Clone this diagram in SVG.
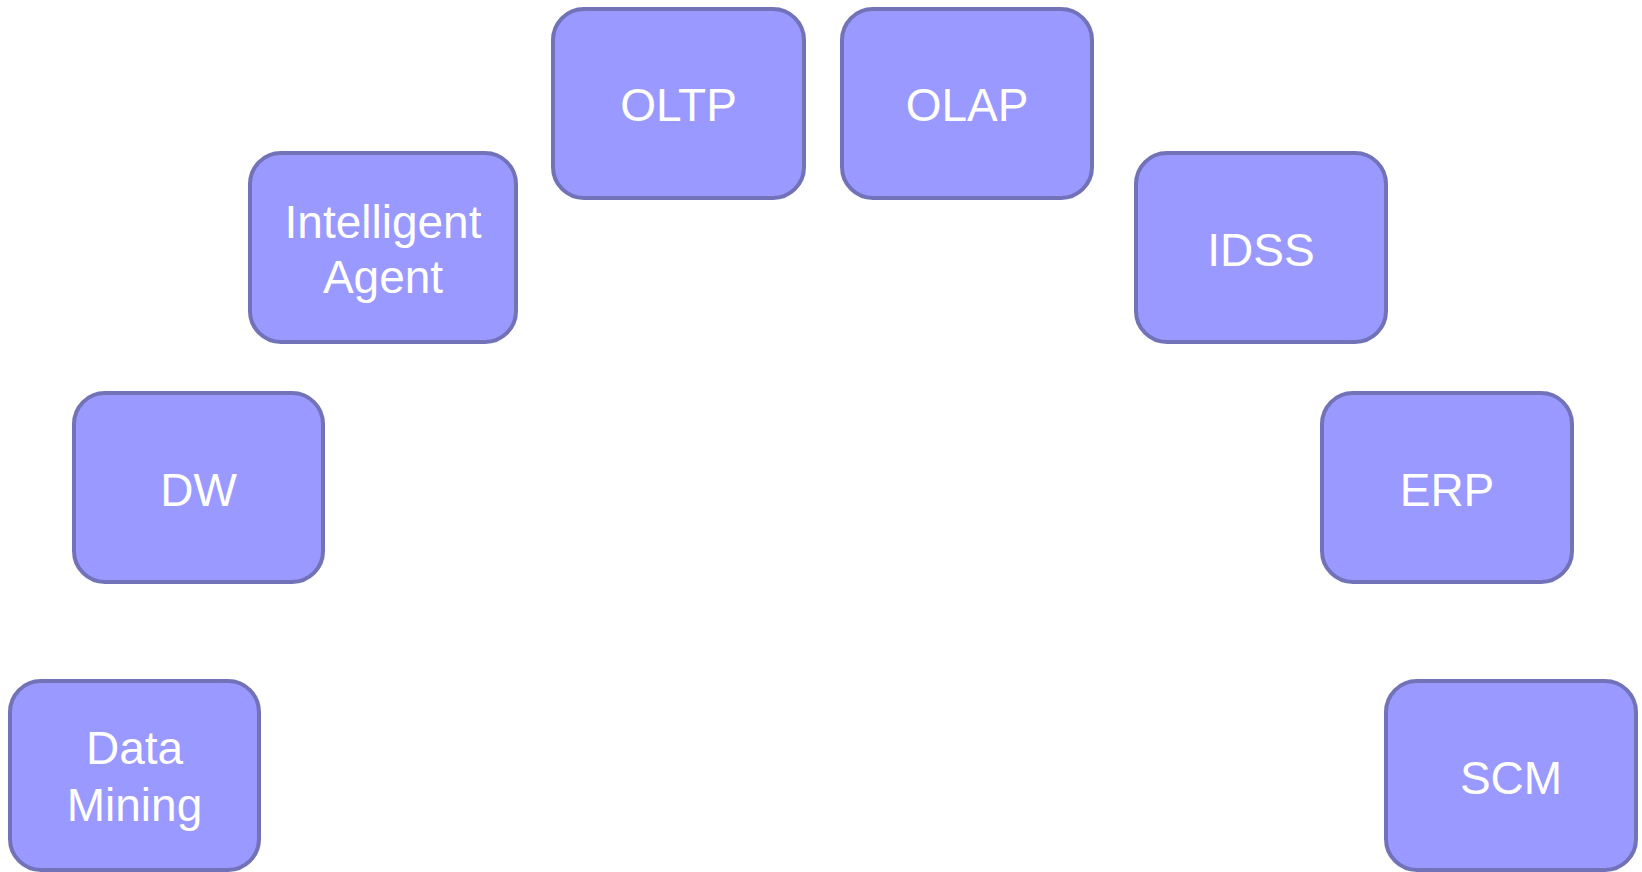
<svg xmlns="http://www.w3.org/2000/svg" width="1642" height="872" viewBox="0 0 1642 872">
  <style>
    .box { fill: #9999ff; stroke: #7272b8; stroke-width: 4; }
    .label { fill: #ffffff; font-family: "Liberation Sans", Arial, sans-serif; font-size: 46px; text-anchor: middle; }
  </style>
  <rect width="1642" height="872" fill="#ffffff"/>
  <g id="connectors"></g>
  <g id="data-mining">
    <rect class="box" x="10" y="681" width="249" height="189" rx="31" ry="31"/>
    <text class="label" x="134.5" y="764">Data</text>
    <text class="label" x="134.5" y="821">Mining</text>
  </g>
  <g id="dw">
    <rect class="box" x="74" y="393" width="249" height="189" rx="31" ry="31"/>
    <text class="label" x="198.5" y="506">DW</text>
  </g>
  <g id="intelligent-agent">
    <rect class="box" x="250" y="153" width="266" height="189" rx="31" ry="31"/>
    <text class="label" x="383" y="238">Intelligent</text>
    <text class="label" x="383" y="293">Agent</text>
  </g>
  <g id="oltp">
    <rect class="box" x="553" y="9" width="251" height="189" rx="31" ry="31"/>
    <text class="label" x="678.5" y="121">OLTP</text>
  </g>
  <g id="olap">
    <rect class="box" x="842" y="9" width="250" height="189" rx="31" ry="31"/>
    <text class="label" x="967" y="121">OLAP</text>
  </g>
  <g id="idss">
    <rect class="box" x="1136" y="153" width="250" height="189" rx="31" ry="31"/>
    <text class="label" x="1261" y="266">IDSS</text>
  </g>
  <g id="erp">
    <rect class="box" x="1322" y="393" width="250" height="189" rx="31" ry="31"/>
    <text class="label" x="1447" y="506">ERP</text>
  </g>
  <g id="scm">
    <rect class="box" x="1386" y="681" width="250" height="189" rx="31" ry="31"/>
    <text class="label" x="1511" y="794">SCM</text>
  </g>
</svg>
